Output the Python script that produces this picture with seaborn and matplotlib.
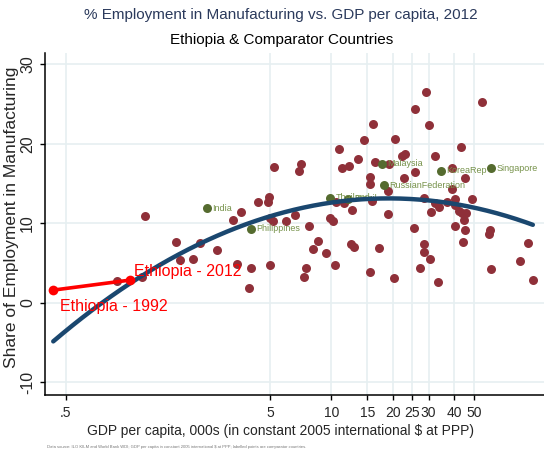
import numpy as np
import pandas as pd
import seaborn as sns
import matplotlib.pyplot as plt

# GDP per capita (000s, constant 2005 intl $ at PPP) and manufacturing share of employment, 2012
other_gdp = [1.22, 5.24, 4.94, 4.89, 4.37, 3.60, 3.29, 5.00, 5.17, 5.99,
             1.73, 2.27, 2.75, 1.81, 2.10, 3.44, 4.04, 5.00, 3.94, 1.18, 0.89,
             29.1, 54.7, 25.7, 30.1, 16.0, 14.5, 20.5, 10.9, 43.2, 7.10,
             6.94, 13.5, 11.3, 12.2, 16.4, 19.2, 22.2, 22.9, 32.2, 25.7,
             39.0, 45.2, 15.5, 15.5, 22.7, 39.0, 18.9, 28.4, 15.8, 10.6,
             11.5, 32.2, 33.7, 36.9, 40.4, 40.4, 48.9, 30.8, 42.2, 43.7,
             45.7, 44.7, 12.6, 6.64, 18.9, 9.84, 10.2, 7.76, 25.4, 40.4,
             45.2, 59.9, 59.3, 92.0, 8.59, 44.2, 28.4, 12.5, 12.9, 17.1,
             8.13, 9.42, 7.50, 7.34, 10.4, 15.5, 20.3, 28.4, 30.4, 27.2,
             33.3, 60.6, 84.0, 97.3]
other_share = [10.9, 17.1, 13.3, 12.7, 12.7, 11.4, 10.4, 10.7, 10.3, 10.3,
               7.7, 7.5, 6.7, 5.4, 5.5, 4.9, 4.4, 4.8, 1.9, 3.3, 2.8,
               26.5, 25.3, 24.4, 22.3, 22.5, 20.5, 20.6, 19.4, 19.6, 17.5,
               16.6, 18.1, 17.0, 17.2, 17.7, 17.4, 18.5, 18.7, 18.4, 16.5,
               16.9, 15.7, 15.8, 15.0, 15.7, 14.3, 14.0, 13.2, 12.8, 12.7,
               12.5, 12.6, 12.1, 12.7, 13.1, 12.3, 13.0, 11.4, 11.6, 11.3,
               11.3, 10.4, 11.7, 11.1, 11.2, 10.7, 10.3, 9.6, 9.4, 9.7,
               9.1, 9.1, 8.7, 7.5, 7.8, 7.7, 7.4, 7.4, 7.0, 6.9,
               6.8, 6.3, 4.4, 3.3, 4.8, 3.9, 3.1, 6.4, 5.5, 4.4,
               2.6, 4.3, 5.3, 2.9]

comp_names = ['India', 'Philippines', 'Thailand', 'Brazil', 'Malaysia',
              'RussianFederation', 'KoreaRep', 'Singapore']
comp_gdp = [2.45, 4.04, 9.84, 12.1, 17.7, 18.1, 34.4, 60.6]
comp_share = [11.9, 9.3, 13.2, 13.1, 17.5, 14.8, 16.6, 16.9]

eth_labels = ['Ethiopia - 1992', 'Ethiopia - 2012']
eth_gdp = [0.433, 1.03]
eth_share = [1.6, 2.86]

xticks = [.5, 5, 10, 15, 20, 25, 30, 40, 50]
xtick_labels = ['.5', '5', '10', '15', '20', '25', '30', '40', '50']
yticks = [-10, 0, 10, 20, 30]

others = pd.DataFrame({'gdp': other_gdp, 'share': other_share})
comps = pd.DataFrame({'name': comp_names, 'gdp': comp_gdp, 'share': comp_share})
eth = pd.DataFrame({'label': eth_labels, 'gdp': eth_gdp, 'share': eth_share})
for d in (others, comps, eth):
    d['lgdp'] = np.log10(d['gdp'])

# quadratic fit in log GDP on the 2012 cross-section, drawn over the full range
cross = pd.concat([others, comps[['gdp', 'share', 'lgdp']]])
coef = np.polyfit(cross['lgdp'], cross['share'], 2)
lo = min(cross['lgdp'].min(), eth['lgdp'].min())
hi = max(cross['lgdp'].max(), eth['lgdp'].max())
fit = pd.DataFrame({'lgdp': np.linspace(lo, hi, 200)})
fit['share'] = np.polyval(coef, fit['lgdp'])

sns.set_style('white')
plt.rcParams['font.family'] = ['Liberation Sans', 'DejaVu Sans']
plt.rcParams['axes.unicode_minus'] = False

fig = plt.figure(figsize=(5.44, 4.5), dpi=100)
ax = fig.add_axes([0.0827, 0.122, 0.917, 0.76])

red = '#8f3039'
green = '#556b2f'
navy = '#1a476f'

sns.scatterplot(data=others, x='lgdp', y='share', color=red, s=42, linewidth=0, ax=ax, zorder=3)
sns.scatterplot(data=comps, x='lgdp', y='share', color=green, s=42, linewidth=0, ax=ax, zorder=4)
for _, r in comps.iterrows():
    ax.annotate(r['name'], (r['lgdp'], r['share']), xytext=(4, 0), textcoords='offset points',
                va='center', ha='left', fontsize=6.5, color='#76924a', zorder=5)

sns.lineplot(data=fit, x='lgdp', y='share', color=navy, lw=3.2, ax=ax, zorder=5)

sns.lineplot(data=eth, x='lgdp', y='share', color='red', lw=2.6, marker='o',
             markersize=7, markeredgewidth=0, ax=ax, zorder=6)
ax.annotate(eth_labels[1], (eth['lgdp'][1], eth['share'][1]), xytext=(3, 6),
            textcoords='offset points', va='center', ha='left', fontsize=11.5, color='red', zorder=7)
ax.annotate(eth_labels[0], (eth['lgdp'][0], eth['share'][0]), xytext=(5, -12),
            textcoords='offset points', va='center', ha='left', fontsize=11.5, color='red', zorder=7)

ax.set_xlim(-0.404, 2.042)
ax.set_ylim(-11.6, 31.4)
ax.set_xticks(np.log10(xticks))
ax.set_xticklabels(xtick_labels)
ax.set_yticks(yticks)
ax.grid(True, color='#e6eff1', lw=1.2)
ax.set_axisbelow(True)
for s in ['top', 'right']:
    ax.spines[s].set_visible(False)
for s in ['left', 'bottom']:
    ax.spines[s].set_color('black')
    ax.spines[s].set_linewidth(1.1)
ax.tick_params(axis='both', which='major', length=3.6, width=1, color='black',
               direction='out', labelsize=10, pad=4, left=True, bottom=True)
ax.set_yticklabels([str(v) for v in yticks], rotation=90, ha='right', va='center', fontsize=11.5)
ax.tick_params(axis='y', pad=3.5)

ax.set_xlabel('GDP per capita, 000s (in constant 2005 international $ at PPP)', fontsize=10)
ax.xaxis.set_label_coords(0.473, -0.085)
ax.set_ylabel('Share of Employment in Manufacturing', fontsize=12.5)
ax.yaxis.set_label_coords(-0.052, 0.52)

fig.text(0.517, 1 - 15 / 450, '% Employment in Manufacturing vs. GDP per capita, 2012',
         ha='center', va='center', fontsize=11, color='#2b3a5c')
fig.text(0.517, 1 - 40 / 450, 'Ethiopia & Comparator Countries',
         ha='center', va='center', fontsize=11, color='black')
fig.text(47 / 544, 1 - 447 / 450,
         'Data source: ILO KILM and World Bank WDI; GDP per capita in constant 2005 international $ at PPP; labelled points are comparator countries.',
         ha='left', va='center', fontsize=3, color='#777777')

fig.savefig('out.png', dpi=100)
